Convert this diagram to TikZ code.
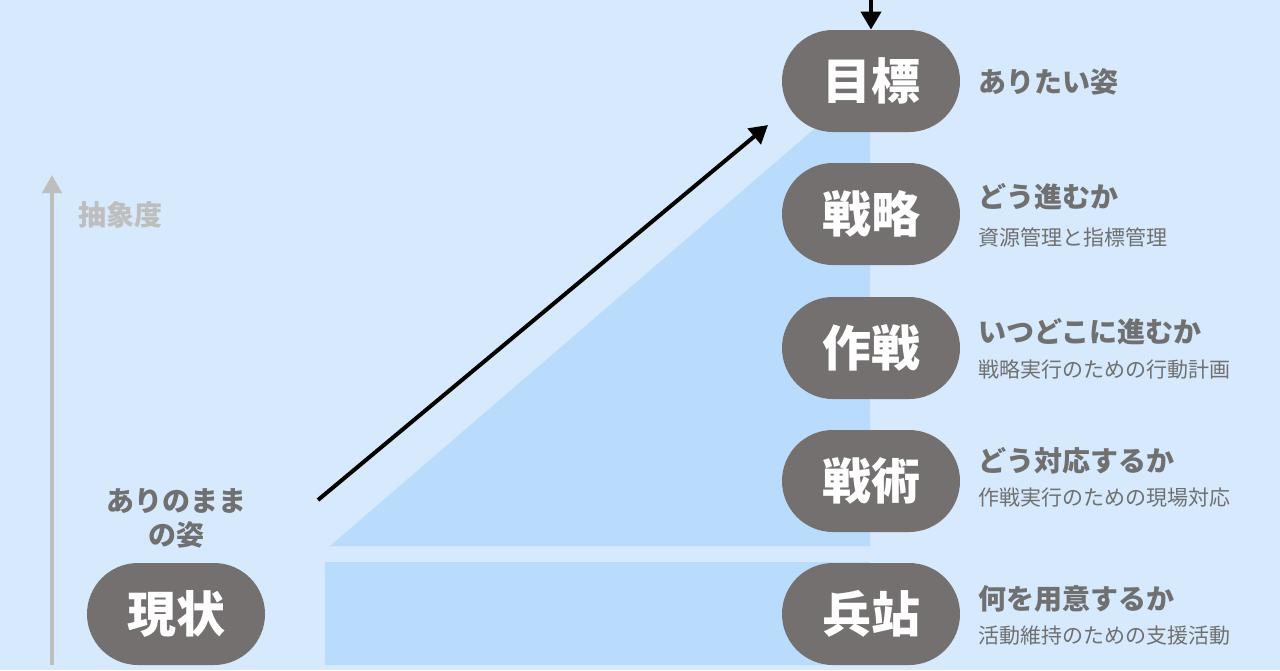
\documentclass[tikz,border=0pt]{standalone}
\usepackage{fontspec}
\setmainfont{Noto Sans CJK JP}
\usetikzlibrary{arrows.meta}
\definecolor{bgblue}{RGB}{214,233,253}
\definecolor{areablue}{RGB}{185,220,252}
\definecolor{pillgray}{RGB}{117,112,112}
\definecolor{textgray}{RGB}{112,112,112}
\definecolor{axisgray}{RGB}{190,190,190}

\begin{document}
\begin{tikzpicture}[x=0.5pt,y=-0.5pt,
  pill/.style={fill=pillgray,text=white,rounded corners=25.5pt,
    minimum width=89pt,minimum height=51pt,inner sep=0pt,
    font=\fontsize{24.5}{27}\selectfont\bfseries},
  head/.style={anchor=west,text=textgray,inner sep=0pt,
    font=\fontsize{14}{16}\selectfont\bfseries},
  sub/.style={anchor=west,text=textgray,inner sep=0pt,
    font=\fontsize{10.5}{12}\selectfont},
  goarrow/.style={line width=2pt,-{Triangle[width=10pt,length=9pt]}}]
\fill[bgblue] (0,0) rectangle (1280,670);
\useasboundingbox (0,0) rectangle (1280,670);

% areas
\fill[areablue] (330,546) -- (870,546) -- (870,81) -- cycle;
\fill[areablue] (325,562) rectangle (870,665);

% axis
\coordinate (axisbot) at (52,665);
\coordinate (axistop) at (52,175);
\draw[axisgray,line width=2pt,-{Triangle[width=9.5pt,length=9pt]}] (axisbot) -- (axistop);
\node[text=axisgray,font=\fontsize{14}{16}\selectfont\bfseries] (abst) at (120,215) {抽象度};

% levels
\node[pill] (goal) at (871,81) {目標};
\node[pill] (strategy) at (871,214) {戦略};
\node[pill] (operation) at (871,348) {作戦};
\node[pill] (tactics) at (871,481) {戦術};
\node[pill] (logistics) at (871,614) {兵站};
\node[pill] (current) at (176,614) {現状};

% descriptions
\node[head] (goalh) at (978,82) {ありたい姿};
\node[head] (strategyh) at (978,197) {どう進むか};
\node[sub] (strategys) at (978,237) {資源管理と指標管理};
\node[head] (operationh) at (978,332) {いつどこに進むか};
\node[sub] (operations) at (978,370) {戦略実行のための行動計画};
\node[head] (tacticsh) at (978,461) {どう対応するか};
\node[sub] (tacticss) at (978,498) {作戦実行のための現場対応};
\node[head] (logisticsh) at (978,599) {何を用意するか};
\node[sub] (logisticss) at (978,636) {活動維持のための支援活動};
\node[text=textgray,font=\fontsize{14}{17}\selectfont\bfseries,align=center] (currenth) at (176,518) {ありのまま\\の姿};

% arrows
\coordinate (rise0) at (318,500);
\coordinate (rise1) at (768,125);
\draw[goarrow] (rise0) -- (rise1);
\coordinate (fromtop) at (871,-2);
\draw[goarrow] (fromtop) -- (goal.north);
\end{tikzpicture}
\end{document}
